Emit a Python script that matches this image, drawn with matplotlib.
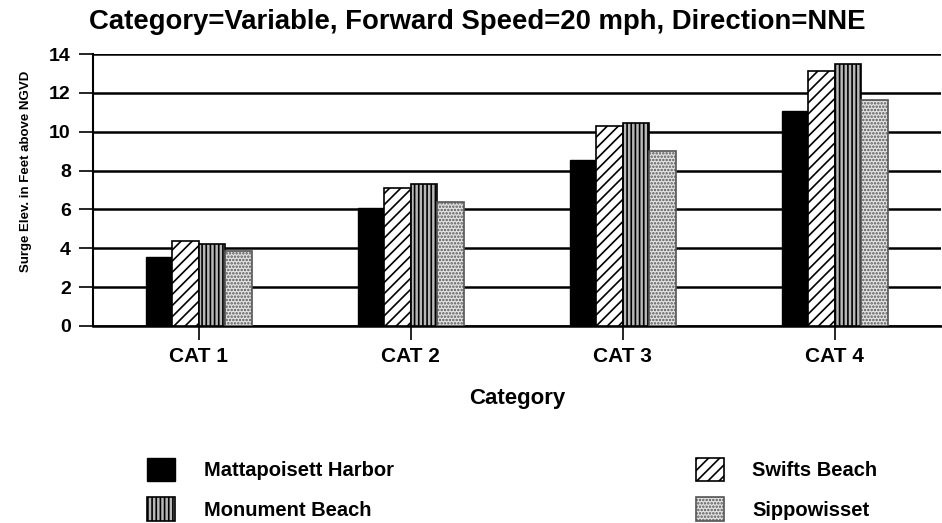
import numpy as np
import matplotlib.pyplot as plt

categories = ["CAT 1", "CAT 2", "CAT 3", "CAT 4"]
mattapoisett = [3.53, 6.07, 8.54, 11.08]
swifts = [4.35, 7.10, 10.29, 13.12]
monument = [4.22, 7.31, 10.45, 13.47]
sippowisset = [3.86, 6.40, 9.00, 11.63]

plt.rcParams['font.family'] = ['Liberation Sans', 'DejaVu Sans']
plt.rcParams['font.weight'] = 'bold'
plt.rcParams['hatch.linewidth'] = 1.2

fig = plt.figure(figsize=(9.42, 5.23), dpi=100)
ax = fig.add_axes([0.0987, 0.3767, 0.9, 0.52])

x = np.arange(len(categories))
w = 0.125
b1 = ax.bar(x - 1.5*w, mattapoisett, w, color='black', edgecolor='black',
            label='Mattapoisett Harbor', zorder=3)
b2 = ax.bar(x - 0.5*w, swifts, w, color='white', edgecolor='black',
            hatch='///', label='Swifts Beach', zorder=3, linewidth=1.2)
b3 = ax.bar(x + 0.5*w, monument, w, color='#b8b8b8', edgecolor='#404040',
            hatch='||||', label='Monument Beach', zorder=3, linewidth=1.2)
b4 = ax.bar(x + 1.5*w, sippowisset, w, color='#e4e4e4', edgecolor='#555555',
            hatch='.....', label='Sippowisset', zorder=3, linewidth=1.2)
for b in b3:
    b.set_edgecolor('black')

ax.set_xlim(-0.5, 3.5)
ax.set_ylim(0, 14)
ax.set_yticks(np.arange(0, 15, 2))
ax.set_xticks(x)
ax.set_xticklabels(categories, fontsize=15, fontweight='bold')
ax.tick_params(axis='y', labelsize=14, length=10, width=1.2, pad=6)
ax.tick_params(axis='x', length=10, width=1.2, pad=5)
ax.yaxis.grid(True, color='black', linewidth=1.8, zorder=0)
ax.set_axisbelow(True)
for s in ['top', 'right']:
    ax.spines[s].set_visible(False)
ax.spines['left'].set_linewidth(1.5)
ax.spines['bottom'].set_linewidth(1.8)

ax.set_xlabel("Category", fontsize=16, fontweight='bold', labelpad=16)
ax.set_ylabel("Surge Elev. in Feet above NGVD", fontsize=9.5, fontweight='bold',
              labelpad=12)
ax.yaxis.label.set_y(0.57)
fig.suptitle("Category=Variable, Forward Speed=20 mph, Direction=NNE",
             fontsize=19.8, fontweight='bold', x=0.507, y=0.982)

fig.legend(handles=[b1, b3, b2, b4],
           labels=['Mattapoisett Harbor', 'Monument Beach', 'Swifts Beach', 'Sippowisset'],
           ncol=2, loc='lower left', bbox_to_anchor=(0.137, -0.03),
           frameon=False, prop={'size': 14.5, 'weight': 'bold'},
           handlelength=1.4, handleheight=1.4,
           handletextpad=1.4, columnspacing=15.0, labelspacing=0.8)

fig.savefig("out.png", dpi=100)
